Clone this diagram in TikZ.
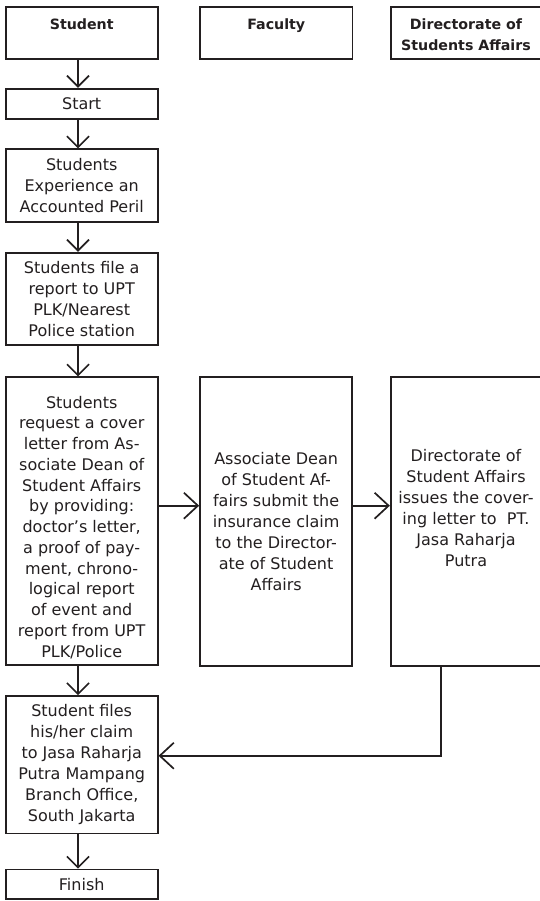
\documentclass[tikz,border=0pt]{standalone}
\usepackage{fontspec}
\setmainfont{DejaVu Sans}
\usetikzlibrary{arrows.meta}
\definecolor{ink}{RGB}{35,31,32}
\begin{document}
\begin{tikzpicture}[x=1pt,y=1pt,
  box/.style={draw=ink, line width=1.7pt, inner sep=0pt, align=center, text=ink,
    font=\fontsize{16}{21}\selectfont},
  head/.style={box, font=\fontsize{14.2}{21.7}\selectfont\bfseries},
  varrow/.style={draw=ink, line width=1.7pt, -{Straight Barb[length=11pt,width=22pt]}},
  harrow/.style={draw=ink, line width=1.7pt, -{Straight Barb[length=14pt,width=26pt]}}
]
\useasboundingbox (0,0) rectangle (540,-901);
\fill[white] (0,0) rectangle (540,-901);

% headers
\node[head, minimum width=152pt, minimum height=52pt] (hs) at (81.7,-32.7) {\rule{0pt}{15pt}Student\\\phantom{Students Affairs}};
\node[head, minimum width=152.5pt, minimum height=52pt] (hf) at (276.25,-32.7) {\rule{0pt}{15pt}Faculty\\\phantom{Students Affairs}};
\node[head, minimum width=150.6pt, minimum height=52pt] (hd) at (466,-32.7) {\rule{0pt}{15pt}Directorate of\\Students Affairs};

% student column
\node[box, minimum width=152pt, minimum height=30pt] (start) at (81.7,-103.7) {Start};
\node[box, minimum width=152pt, minimum height=72.4pt] (b3) at (81.7,-185.5) {Students\\Experience an\\Accounted Peril};
\node[box, minimum width=152pt, minimum height=92.6pt] (b4) at (81.7,-299) {Students file a\\report to UPT\\PLK/Nearest\\Police station};
\node[box, minimum width=152pt, minimum height=288pt, font=\fontsize{16}{20.75}\selectfont] (b5) at (81.7,-521.3) {\rule{0pt}{24pt}Students\\request a cover\\letter from As-\\sociate Dean of\\Student Affairs\\by providing:\\doctor’s letter,\\a proof of pay-\\ment, chrono-\\logical report\\of event and\\report from UPT\\PLK/Police};
\node[box, minimum width=152pt, minimum height=137.5pt] (b6) at (81.7,-764.75) {Student files\\his/her claim\\to Jasa Raharja\\Putra Mampang\\Branch Office,\\South Jakarta};
\node[box, minimum width=152pt, minimum height=29.8pt] (fin) at (81.7,-884.4) {Finish};

% faculty and directorate
\node[box, minimum width=152.3pt, minimum height=288.4pt] (mid) at (276.15,-521.5) {Associate Dean\\of Student Af-\\fairs submit the\\insurance claim\\to the Director-\\ate of Student\\Affairs};
\node[box, minimum width=150.6pt, minimum height=288.4pt] (dir) at (466,-521.5) {Directorate of\\Student Affairs\\issues the cover-\\ing letter to\ \ PT.\\Jasa Raharja\\Putra\\\strut};

% vertical arrows
\draw[varrow] ([xshift=-3.7pt]hs.south) -- ([xshift=-3.7pt]start.north);
\draw[varrow] ([xshift=-3.7pt]start.south) -- ([xshift=-3.7pt]b3.north);
\draw[varrow] ([xshift=-3.7pt]b3.south) -- ([xshift=-3.7pt]b4.north);
\draw[varrow] ([xshift=-3.7pt]b4.south) -- ([xshift=-3.7pt]b5.north);
\draw[varrow] ([xshift=-3.7pt]b5.south) -- ([xshift=-3.7pt]b6.north);
\draw[varrow] ([xshift=-3.7pt]b6.south) -- ([xshift=-3.7pt]fin.north);

% horizontal arrows
\coordinate (hy) at ([yshift=15.6pt]b5.east);
\draw[harrow] (hy) -- (hy -| mid.west);
\draw[harrow] (hy -| mid.east) -- (hy -| dir.west);
\draw[harrow] ([xshift=-25.3pt]dir.south) |- ([yshift=9pt]b6.east);
\end{tikzpicture}
\end{document}
